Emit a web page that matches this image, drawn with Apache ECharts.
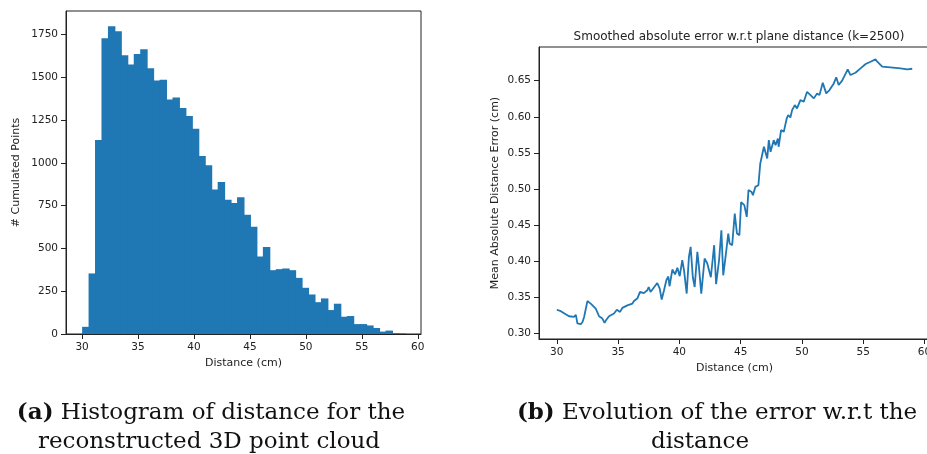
<!DOCTYPE html>
<html>
<head>
<meta charset="utf-8">
<script src="https://cdn.jsdelivr.net/npm/echarts@6/dist/echarts.min.js"></script>
<style>
  html, body { margin: 0; padding: 0; background: #fff; }
  #chart { width: 927px; height: 454px; }
</style>
</head>
<body>
<div id="chart"></div>
<script>
// Histogram: 50 equal bins spanning the measured distance range (cm)
const histStart = 30.0;
const histEnd = 58.85;
const histCounts = [
  42, 354, 1134, 1729, 1799, 1770, 1630, 1575, 1637, 1665,
  1554, 1482, 1486, 1371, 1383, 1321, 1274, 1200, 1041, 987,
  845, 888, 785, 765, 800, 697, 627, 453, 509, 373,
  379, 383, 373, 328, 270, 231, 186, 208, 140, 177,
  101, 105, 58, 58, 50, 35, 14, 20, 6, 4
];
const histTicksX = [30, 35, 40, 45, 50, 55, 60];
const histTicksY = [0, 250, 500, 750, 1000, 1250, 1500, 1750];

// Smoothed mean absolute error against plane distance
const errDistance = [
  30.0, 30.33, 30.73, 31.0, 31.4, 31.56, 31.68, 31.96, 32.1, 32.23,
  32.5, 32.77, 33.18, 33.45, 33.72, 33.9, 34.0, 34.26, 34.67, 34.9,
  35.16, 35.35, 35.76, 36.17, 36.3, 36.57, 36.79, 37.1, 37.39, 37.5,
  37.65, 37.8, 38.2, 38.4, 38.56, 38.75, 38.94, 39.1, 39.2, 39.43,
  39.65, 39.84, 40.03, 40.24, 40.38, 40.6, 40.78, 40.92, 41.1, 41.25,
  41.47, 41.6, 41.79, 42.06, 42.28, 42.57, 42.84, 43.0, 43.24, 43.43,
  43.58, 43.77, 43.99, 44.1, 44.31, 44.52, 44.7, 44.9, 45.04, 45.3,
  45.5, 45.64, 45.9, 46.0, 46.2, 46.45, 46.6, 46.9, 47.17, 47.3,
  47.44, 47.7, 47.85, 48.04, 48.1, 48.3, 48.52, 48.76, 48.88, 49.06,
  49.2, 49.42, 49.6, 49.88, 50.15, 50.42, 50.7, 50.97, 51.24, 51.43,
  51.7, 51.98, 52.25, 52.6, 52.8, 53.0, 53.28, 53.74, 53.96, 54.37,
  54.78, 55.2, 55.6, 56.0, 56.15, 56.55, 57.22, 58.04, 58.6, 59.0
];
const errValue = [
  0.333, 0.331, 0.3267, 0.324, 0.323, 0.326, 0.314, 0.313, 0.316, 0.323,
  0.345, 0.3415, 0.3346, 0.324, 0.3208, 0.3147, 0.318, 0.324, 0.3277, 0.333,
  0.330, 0.3355, 0.339, 0.3415, 0.345, 0.3485, 0.3576, 0.356, 0.360, 0.3645,
  0.3576, 0.3554, 0.370, 0.3623, 0.347, 0.360, 0.3738, 0.379, 0.3655, 0.3886,
  0.382, 0.391, 0.3794, 0.4015, 0.3877, 0.3554, 0.406, 0.420, 0.378, 0.3645,
  0.413, 0.392, 0.3554, 0.4039, 0.397, 0.378, 0.4223, 0.3683, 0.4015, 0.443,
  0.3807, 0.406, 0.4385, 0.4247, 0.4223, 0.466, 0.4385, 0.436, 0.482, 0.4777,
  0.4615, 0.4985, 0.496, 0.4915, 0.503, 0.5054, 0.535, 0.5585, 0.5424, 0.5677,
  0.5515, 0.5677, 0.5608, 0.570, 0.5585, 0.5816, 0.5792, 0.5977, 0.6023, 0.5991,
  0.6093, 0.6162, 0.6116, 0.623, 0.6208, 0.6346, 0.630, 0.6255, 0.6324, 0.630,
  0.647, 0.6324, 0.637, 0.6462, 0.6546, 0.644, 0.650, 0.6656, 0.6578, 0.661,
  0.667, 0.673, 0.6762, 0.6794, 0.6762, 0.6693, 0.6685, 0.667, 0.6657, 0.6665
];
const errTicksX = [30, 35, 40, 45, 50, 55, 60];
const errTicksY = [0.30, 0.35, 0.40, 0.45, 0.50, 0.55, 0.60, 0.65];

const blue = '#1f77b4';
const ink = '#222';
const sans = 'DejaVu Sans';
const serif = 'DejaVu Serif';
const capSize = 23;

const binWidth = (histEnd - histStart) / histCounts.length;
const histData = histCounts.map((c, i) => [histStart + i * binWidth, histStart + (i + 1) * binWidth, c]);
const errData = errDistance.map((d, i) => [d, errValue[i]]);

function valueAxis(extra, ticks, formatter) {
  return Object.assign({
    type: 'value',
    axisLine: { show: true, onZero: false, lineStyle: { color: ink, width: 1 } },
    axisTick: { show: true, inside: false, length: 5, customValues: ticks, lineStyle: { color: ink, width: 1 } },
    splitLine: { show: false },
    axisLabel: {
      color: ink, fontFamily: sans, fontSize: 10.5, margin: 8, customValues: ticks,
      formatter: formatter || (v => String(v))
    },
    nameLocation: 'middle',
    nameTextStyle: { color: ink, fontFamily: sans, fontSize: 11 }
  }, extra);
}

function caption(x, y, text) {
  return {
    type: 'text',
    style: {
      x: x, y: y, align: 'center', verticalAlign: 'middle',
      text: text,
      font: capSize + 'px "' + serif + '"', fill: '#111',
      rich: { b: { fontFamily: serif, fontSize: capSize, fontWeight: 'bold', fill: '#111' } }
    }
  };
}

const chart = echarts.init(document.getElementById('chart'), null, { renderer: 'canvas' });

chart.setOption({
  animation: false,
  backgroundColor: '#fff',
  title: {
    text: 'Smoothed absolute error w.r.t plane distance (k=2500)',
    left: 734, top: 26, textAlign: 'center',
    textStyle: { color: ink, fontFamily: sans, fontSize: 12, fontWeight: 'normal' }
  },
  grid: [
    { left: 66, top: 11, right: 506, bottom: 120, outerBoundsMode: 'none', containLabel: false,
      show: true, borderColor: ink, borderWidth: 1, backgroundColor: 'transparent' },
    { left: 539, top: 47, right: -3, bottom: 115, outerBoundsMode: 'none', containLabel: false,
      show: true, borderColor: ink, borderWidth: 1, backgroundColor: 'transparent' }
  ],
  xAxis: [
    valueAxis({ gridIndex: 0, min: 28.56, max: 60.29, name: 'Distance (cm)', nameGap: 24 }, histTicksX),
    valueAxis({ gridIndex: 1, min: 28.55, max: 60.45, name: 'Distance (cm)', nameGap: 22 }, errTicksX)
  ],
  yAxis: [
    valueAxis({ gridIndex: 0, min: 0, max: 1888, name: '# Cumulated Points', nameGap: 44, nameRotate: 90 }, histTicksY),
    valueAxis({ gridIndex: 1, min: 0.2925, max: 0.6966, name: 'Mean Absolute Distance Error (cm)', nameGap: 38, nameRotate: 90 },
      errTicksY, v => v.toFixed(2))
  ],
  series: [
    {
      type: 'custom',
      xAxisIndex: 0, yAxisIndex: 0,
      data: histData,
      encode: { x: [0, 1], y: 2 },
      renderItem: function (params, api) {
        const p0 = api.coord([api.value(0), 0]);
        const p1 = api.coord([api.value(1), api.value(2)]);
        return {
          type: 'rect',
          shape: { x: p0[0], y: p1[1], width: p1[0] - p0[0] + 1, height: p0[1] - p1[1] },
          style: { fill: blue }
        };
      }
    },
    {
      type: 'line',
      xAxisIndex: 1, yAxisIndex: 1,
      data: errData,
      showSymbol: false,
      symbol: 'none',
      lineStyle: { color: blue, width: 1.8 },
      z: 3
    }
  ],
  graphic: [
    caption(211, 413, '{b|(a)} Histogram of distance for the'),
    caption(209, 442, 'reconstructed 3D point cloud'),
    caption(717, 413, '{b|(b)} Evolution of the error w.r.t the'),
    caption(700, 442, 'distance')
  ]
});
</script>
</body>
</html>
